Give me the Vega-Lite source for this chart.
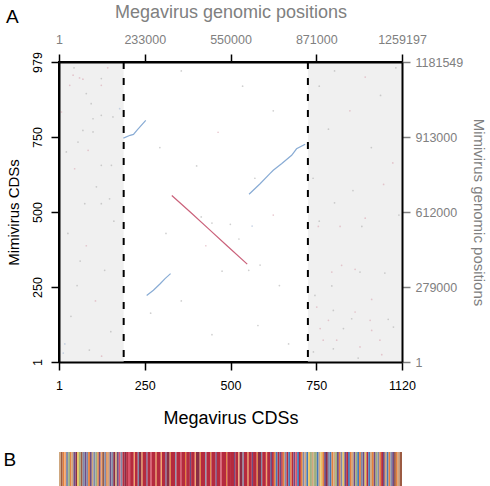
{
  "$schema": "https://vega.github.io/schema/vega-lite/v6.json",
  "padding": {"left": 3, "top": 2, "right": 4, "bottom": 0},
  "config": {
    "font": "Liberation Sans",
    "view": {"stroke": null},
    "axis": {"grid": false, "titleFontWeight": "normal", "zindex": 1},
    "title": {"font": "Liberation Sans", "fontWeight": "normal"}
  },
  "datasets": {
    "shade": [{"a": 1, "b": 212}, {"a": 813, "b": 1120}],
    "cut": [{"x": 212}, {"x": 813}],
    "redline": [
      {"x": 369, "y": 544}, {"x": 430, "y": 489}, {"x": 490, "y": 434}, {"x": 550, "y": 379}, {"x": 615, "y": 320}
    ],
    "bluelines": [
      {"s": "b1", "x": 211, "y": 731}, {"s": "b1", "x": 233, "y": 740}, {"s": "b1", "x": 244, "y": 743},
      {"s": "b1", "x": 255, "y": 756}, {"s": "b1", "x": 284, "y": 789},
      {"s": "b2", "x": 287, "y": 218}, {"s": "b2", "x": 309, "y": 235}, {"s": "b2", "x": 331, "y": 256},
      {"s": "b2", "x": 347, "y": 273}, {"s": "b2", "x": 365, "y": 289},
      {"s": "b3", "x": 621, "y": 548}, {"s": "b3", "x": 657, "y": 582}, {"s": "b3", "x": 689, "y": 615},
      {"s": "b3", "x": 700, "y": 626}, {"s": "b3", "x": 728, "y": 648}, {"s": "b3", "x": 760, "y": 675},
      {"s": "b3", "x": 776, "y": 696}, {"s": "b3", "x": 804, "y": 711}
    ],
    "dots": [
      {"x": 47, "y": 936, "t": "p"}, {"x": 68, "y": 927, "t": "p"}, {"x": 79, "y": 923, "t": "p"}, {"x": 36, "y": 903, "t": "p"},
      {"x": 139, "y": 925, "t": "g"}, {"x": 139, "y": 903, "t": "p"}, {"x": 90, "y": 876, "t": "g"}, {"x": 106, "y": 843, "t": "g"},
      {"x": 199, "y": 827, "t": "b"}, {"x": 177, "y": 800, "t": "g"}, {"x": 139, "y": 805, "t": "g"}, {"x": 9, "y": 816, "t": "p"},
      {"x": 112, "y": 794, "t": "g"}, {"x": 79, "y": 756, "t": "g"}, {"x": 112, "y": 751, "t": "g"}, {"x": 63, "y": 718, "t": "g"},
      {"x": 25, "y": 686, "t": "g"}, {"x": 96, "y": 691, "t": "p"}, {"x": 139, "y": 642, "t": "g"}, {"x": 172, "y": 642, "t": "g"},
      {"x": 52, "y": 631, "t": "p"}, {"x": 123, "y": 572, "t": "g"}, {"x": 166, "y": 533, "t": "g"}, {"x": 139, "y": 517, "t": "g"},
      {"x": 85, "y": 517, "t": "g"}, {"x": 30, "y": 420, "t": "g"}, {"x": 90, "y": 380, "t": "p"}, {"x": 150, "y": 300, "t": "g"},
      {"x": 60, "y": 250, "t": "g"}, {"x": 120, "y": 200, "t": "p"}, {"x": 40, "y": 150, "t": "g"}, {"x": 170, "y": 100, "t": "g"},
      {"x": 20, "y": 60, "t": "b"}, {"x": 100, "y": 40, "t": "g"}, {"x": 140, "y": 20, "t": "p"}, {"x": 70, "y": 330, "t": "g"},
      {"x": 180, "y": 460, "t": "g"}, {"x": 15, "y": 30, "t": "b"}, {"x": 160, "y": 960, "t": "p"}, {"x": 50, "y": 960, "t": "g"},
      {"x": 847, "y": 443, "t": "p"}, {"x": 918, "y": 443, "t": "p"}, {"x": 989, "y": 443, "t": "g"}, {"x": 923, "y": 316, "t": "p"},
      {"x": 891, "y": 294, "t": "p"}, {"x": 967, "y": 303, "t": "p"}, {"x": 983, "y": 294, "t": "g"}, {"x": 1064, "y": 291, "t": "g"},
      {"x": 891, "y": 249, "t": "g"}, {"x": 836, "y": 218, "t": "g"}, {"x": 1021, "y": 205, "t": "p"}, {"x": 842, "y": 180, "t": "p"},
      {"x": 896, "y": 169, "t": "g"}, {"x": 967, "y": 164, "t": "p"}, {"x": 880, "y": 137, "t": "p"}, {"x": 956, "y": 142, "t": "g"},
      {"x": 1016, "y": 137, "t": "p"}, {"x": 1075, "y": 140, "t": "g"}, {"x": 853, "y": 110, "t": "p"}, {"x": 929, "y": 110, "t": "g"},
      {"x": 1021, "y": 104, "t": "p"}, {"x": 1092, "y": 115, "t": "g"}, {"x": 863, "y": 72, "t": "p"}, {"x": 907, "y": 72, "t": "p"},
      {"x": 1048, "y": 72, "t": "p"}, {"x": 896, "y": 44, "t": "g"}, {"x": 983, "y": 50, "t": "p"}, {"x": 1054, "y": 25, "t": "p"},
      {"x": 831, "y": 34, "t": "g"}, {"x": 977, "y": 14, "t": "g"}, {"x": 850, "y": 900, "t": "g"}, {"x": 900, "y": 950, "t": "g"},
      {"x": 1000, "y": 930, "t": "p"}, {"x": 1050, "y": 870, "t": "g"}, {"x": 1100, "y": 960, "t": "g"}, {"x": 950, "y": 820, "t": "p"},
      {"x": 880, "y": 760, "t": "g"}, {"x": 1020, "y": 700, "t": "g"}, {"x": 1090, "y": 650, "t": "p"}, {"x": 830, "y": 600, "t": "g"},
      {"x": 960, "y": 560, "t": "g"}, {"x": 1060, "y": 580, "t": "p"}, {"x": 900, "y": 520, "t": "g"}, {"x": 1110, "y": 480, "t": "g"},
      {"x": 1000, "y": 470, "t": "p"}, {"x": 850, "y": 460, "t": "g"},
      {"x": 400, "y": 950, "t": "g"}, {"x": 600, "y": 900, "t": "g"}, {"x": 700, "y": 820, "t": "g"}, {"x": 330, "y": 700, "t": "g"},
      {"x": 520, "y": 750, "t": "p"}, {"x": 450, "y": 640, "t": "g"}, {"x": 640, "y": 600, "t": "g"}, {"x": 700, "y": 480, "t": "p"},
      {"x": 560, "y": 450, "t": "g"}, {"x": 350, "y": 420, "t": "g"}, {"x": 480, "y": 380, "t": "p"}, {"x": 620, "y": 300, "t": "g"},
      {"x": 720, "y": 250, "t": "g"}, {"x": 400, "y": 200, "t": "g"}, {"x": 300, "y": 160, "t": "g"}, {"x": 650, "y": 120, "t": "g"},
      {"x": 500, "y": 90, "t": "g"}, {"x": 750, "y": 60, "t": "g"}, {"x": 465, "y": 474, "t": "g"}, {"x": 500, "y": 454, "t": "g"},
      {"x": 631, "y": 444, "t": "b"}, {"x": 588, "y": 402, "t": "g"}, {"x": 657, "y": 317, "t": "g"}, {"x": 533, "y": 297, "t": "g"}
    ],
    "strip": [
      {"a": 1, "b": 7, "c": "T"}, {"a": 7, "b": 13, "c": "N"}, {"a": 13, "b": 19, "c": "O"}, {"a": 19, "b": 24, "c": "P"},
      {"a": 24, "b": 31, "c": "S"}, {"a": 31, "b": 37, "c": "G"}, {"a": 37, "b": 42, "c": "O"}, {"a": 42, "b": 48, "c": "T"},
      {"a": 48, "b": 55, "c": "U"}, {"a": 55, "b": 60, "c": "M"}, {"a": 60, "b": 66, "c": "Y"}, {"a": 66, "b": 72, "c": "G"},
      {"a": 72, "b": 78, "c": "N"}, {"a": 78, "b": 85, "c": "S"}, {"a": 85, "b": 91, "c": "U"}, {"a": 91, "b": 96, "c": "S"},
      {"a": 96, "b": 102, "c": "O"}, {"a": 102, "b": 108, "c": "U"}, {"a": 108, "b": 113, "c": "T"}, {"a": 113, "b": 120, "c": "S"},
      {"a": 120, "b": 126, "c": "G"}, {"a": 126, "b": 131, "c": "O"}, {"a": 131, "b": 137, "c": "U"}, {"a": 137, "b": 142, "c": "P"},
      {"a": 142, "b": 149, "c": "N"}, {"a": 149, "b": 155, "c": "S"}, {"a": 155, "b": 160, "c": "O"}, {"a": 160, "b": 166, "c": "T"},
      {"a": 166, "b": 172, "c": "U"}, {"a": 172, "b": 178, "c": "S"}, {"a": 178, "b": 184, "c": "M"}, {"a": 184, "b": 190, "c": "T"},
      {"a": 190, "b": 196, "c": "U"}, {"a": 196, "b": 202, "c": "K"}, {"a": 202, "b": 208, "c": "S"}, {"a": 208, "b": 214, "c": "R"},
      {"a": 214, "b": 220, "c": "M"}, {"a": 220, "b": 226, "c": "R"}, {"a": 226, "b": 233, "c": "K"},
      {"a": 233, "b": 245, "c": "R"}, {"a": 245, "b": 249, "c": "P"}, {"a": 249, "b": 258, "c": "R"}, {"a": 258, "b": 262, "c": "S"},
      {"a": 262, "b": 270, "c": "M"}, {"a": 270, "b": 274, "c": "O"}, {"a": 274, "b": 286, "c": "R"}, {"a": 286, "b": 290, "c": "U"},
      {"a": 290, "b": 300, "c": "R"}, {"a": 300, "b": 304, "c": "K"}, {"a": 304, "b": 316, "c": "R"}, {"a": 316, "b": 320, "c": "O"},
      {"a": 320, "b": 333, "c": "R"}, {"a": 333, "b": 337, "c": "P"}, {"a": 337, "b": 348, "c": "R"}, {"a": 348, "b": 352, "c": "U"},
      {"a": 352, "b": 362, "c": "M"}, {"a": 362, "b": 366, "c": "O"}, {"a": 366, "b": 380, "c": "R"}, {"a": 380, "b": 384, "c": "S"},
      {"a": 384, "b": 396, "c": "R"}, {"a": 396, "b": 400, "c": "K"}, {"a": 400, "b": 412, "c": "R"}, {"a": 412, "b": 416, "c": "O"},
      {"a": 416, "b": 428, "c": "R"}, {"a": 428, "b": 432, "c": "U"}, {"a": 432, "b": 444, "c": "R"}, {"a": 444, "b": 448, "c": "P"},
      {"a": 448, "b": 460, "c": "M"}, {"a": 460, "b": 464, "c": "O"}, {"a": 464, "b": 478, "c": "R"}, {"a": 478, "b": 482, "c": "S"},
      {"a": 482, "b": 494, "c": "R"}, {"a": 494, "b": 498, "c": "O"}, {"a": 498, "b": 512, "c": "R"}, {"a": 512, "b": 516, "c": "U"},
      {"a": 516, "b": 528, "c": "R"}, {"a": 528, "b": 532, "c": "K"}, {"a": 532, "b": 546, "c": "R"}, {"a": 546, "b": 550, "c": "O"},
      {"a": 550, "b": 559, "c": "R"},
      {"a": 559, "b": 572, "c": "R"}, {"a": 572, "b": 576, "c": "U"}, {"a": 576, "b": 586, "c": "R"}, {"a": 586, "b": 590, "c": "P"},
      {"a": 590, "b": 600, "c": "M"}, {"a": 600, "b": 604, "c": "S"}, {"a": 604, "b": 616, "c": "R"}, {"a": 616, "b": 620, "c": "O"},
      {"a": 620, "b": 630, "c": "R"}, {"a": 630, "b": 634, "c": "U"}, {"a": 634, "b": 646, "c": "R"}, {"a": 646, "b": 650, "c": "O"},
      {"a": 650, "b": 660, "c": "M"}, {"a": 660, "b": 664, "c": "S"}, {"a": 664, "b": 676, "c": "R"}, {"a": 676, "b": 680, "c": "P"},
      {"a": 680, "b": 690, "c": "R"},
      {"a": 690, "b": 696, "c": "U"}, {"a": 696, "b": 702, "c": "R"}, {"a": 702, "b": 708, "c": "O"}, {"a": 708, "b": 714, "c": "B"},
      {"a": 714, "b": 720, "c": "R"}, {"a": 720, "b": 726, "c": "U"}, {"a": 726, "b": 731, "c": "R"}, {"a": 731, "b": 737, "c": "O"},
      {"a": 737, "b": 743, "c": "S"}, {"a": 743, "b": 749, "c": "R"}, {"a": 749, "b": 755, "c": "B"}, {"a": 755, "b": 760, "c": "O"},
      {"a": 760, "b": 766, "c": "R"}, {"a": 766, "b": 772, "c": "U"}, {"a": 772, "b": 778, "c": "K"}, {"a": 778, "b": 784, "c": "B"},
      {"a": 784, "b": 790, "c": "R"}, {"a": 790, "b": 796, "c": "O"}, {"a": 796, "b": 802, "c": "S"}, {"a": 802, "b": 808, "c": "T"},
      {"a": 808, "b": 814, "c": "B"}, {"a": 814, "b": 820, "c": "Y"}, {"a": 820, "b": 826, "c": "G"}, {"a": 826, "b": 832, "c": "T"},
      {"a": 832, "b": 836, "c": "G"},
      {"a": 836, "b": 842, "c": "G"}, {"a": 842, "b": 848, "c": "B"}, {"a": 848, "b": 854, "c": "T"}, {"a": 854, "b": 860, "c": "Y"},
      {"a": 860, "b": 866, "c": "O"}, {"a": 866, "b": 872, "c": "U"}, {"a": 872, "b": 878, "c": "M"}, {"a": 878, "b": 884, "c": "S"},
      {"a": 884, "b": 890, "c": "B"}, {"a": 890, "b": 896, "c": "O"}, {"a": 896, "b": 902, "c": "T"}, {"a": 902, "b": 908, "c": "G"},
      {"a": 908, "b": 914, "c": "U"}, {"a": 914, "b": 920, "c": "O"}, {"a": 920, "b": 926, "c": "S"}, {"a": 926, "b": 932, "c": "Y"},
      {"a": 932, "b": 938, "c": "U"}, {"a": 938, "b": 944, "c": "R"}, {"a": 944, "b": 950, "c": "B"}, {"a": 950, "b": 956, "c": "O"},
      {"a": 956, "b": 962, "c": "T"}, {"a": 962, "b": 968, "c": "U"}, {"a": 968, "b": 974, "c": "G"}, {"a": 974, "b": 980, "c": "B"},
      {"a": 980, "b": 986, "c": "O"}, {"a": 986, "b": 992, "c": "S"}, {"a": 992, "b": 998, "c": "U"}, {"a": 998, "b": 1004, "c": "Y"},
      {"a": 1004, "b": 1010, "c": "R"}, {"a": 1010, "b": 1016, "c": "B"}, {"a": 1016, "b": 1022, "c": "T"}, {"a": 1022, "b": 1028, "c": "O"},
      {"a": 1028, "b": 1034, "c": "U"}, {"a": 1034, "b": 1040, "c": "G"}, {"a": 1040, "b": 1046, "c": "S"}, {"a": 1046, "b": 1052, "c": "O"},
      {"a": 1052, "b": 1058, "c": "R"}, {"a": 1058, "b": 1064, "c": "U"}, {"a": 1064, "b": 1070, "c": "T"}, {"a": 1070, "b": 1076, "c": "B"},
      {"a": 1076, "b": 1082, "c": "O"}, {"a": 1082, "b": 1088, "c": "S"}, {"a": 1088, "b": 1094, "c": "U"}, {"a": 1094, "b": 1100, "c": "N"},
      {"a": 1100, "b": 1106, "c": "O"}, {"a": 1106, "b": 1112, "c": "T"}, {"a": 1112, "b": 1120, "c": "N"}
    ]
  },
  "spacing": 21,
  "resolve": {"scale": {"color": "independent"}},
  "vconcat": [
    {
      "width": 343,
      "height": 300,
      "view": {"stroke": "black", "strokeWidth": 2},
      "title": {"text": "A", "anchor": "start", "frame": "bounds", "fontSize": 19, "color": "black", "offset": -24},
      "resolve": {"axis": {"x": "independent", "y": "independent"}, "scale": {"color": "independent"}},
      "layer": [
        {
          "data": {"name": "shade"},
          "mark": {"type": "rect", "color": "#f0f0f0"},
          "encoding": {
            "x": {"field": "a", "type": "quantitative", "scale": {"domain": [1, 1120], "nice": false, "zero": false}, "axis": null},
            "x2": {"field": "b"},
            "y": {"datum": 1, "type": "quantitative", "scale": {"domain": [1, 979], "nice": false, "zero": false}, "axis": null},
            "y2": {"datum": 979}
          }
        },
        {
          "data": {"name": "dots"},
          "mark": {"type": "circle", "size": 3, "opacity": 0.55},
          "encoding": {
            "x": {"field": "x", "type": "quantitative", "scale": {"domain": [1, 1120], "nice": false, "zero": false},
              "axis": {"orient": "bottom", "values": [1, 280.75, 560.5, 840.25, 1120], "zindex": 2,
                "labelExpr": "datum.value < 100 ? '1' : datum.value < 400 ? '250' : datum.value < 700 ? '500' : datum.value < 1000 ? '750' : '1120'",
                "labelFlush": false, "labelOverlap": false, "tickSize": 8, "tickColor": "black", "tickWidth": 1.5,
                "labelPadding": 9.5, "labelFontSize": 12.5, "labelColor": "black", "domainColor": "black", "domainWidth": 2,
                "title": "Megavirus CDSs", "titleFontSize": 18, "titlePadding": 17.5, "titleColor": "black"}},
            "y": {"field": "y", "type": "quantitative", "scale": {"domain": [1, 979], "nice": false, "zero": false},
              "axis": {"orient": "left", "values": [1, 245.5, 490, 734.5, 979], "zindex": 2,
                "labelExpr": "datum.value < 100 ? '1' : datum.value < 300 ? '250' : datum.value < 600 ? '500' : datum.value < 900 ? '750' : '979'",
                "labelAngle": -90, "labelOverlap": false, "tickSize": 8, "tickColor": "black", "tickWidth": 1.5,
                "labelPadding": 7, "labelFontSize": 12.5, "labelColor": "black", "domainColor": "black", "domainWidth": 2,
                "title": "Mimivirus CDSs", "titleFontSize": 15, "titlePadding": 10, "titleColor": "black"}},
            "color": {"field": "t", "type": "nominal", "scale": {"domain": ["g", "p", "b"], "range": ["#aaaaaa", "#d8a0ad", "#9fb5d3"]}, "legend": null}
          }
        },
        {
          "data": {"name": "cut"},
          "mark": {"type": "rule", "color": "black", "strokeWidth": 2, "strokeDash": [7, 9]},
          "encoding": {
            "x": {"field": "x", "type": "quantitative", "scale": {"domain": [1, 1120], "nice": false, "zero": false}, "axis": null}
          }
        },
        {
          "data": {"name": "redline"},
          "mark": {"type": "line", "strokeWidth": 1.2, "color": "#c4506c", "opacity": 0.9},
          "encoding": {
            "x": {"field": "x", "type": "quantitative", "scale": {"domain": [1, 1120], "nice": false, "zero": false}, "axis": null},
            "y": {"field": "y", "type": "quantitative", "scale": {"domain": [1, 979], "nice": false, "zero": false}, "axis": null}
          }
        },
        {
          "data": {"name": "bluelines"},
          "mark": {"type": "line", "strokeWidth": 1.2, "color": "#7ba2cf", "opacity": 0.9},
          "encoding": {
            "x": {"field": "x", "type": "quantitative", "scale": {"domain": [1, 1120], "nice": false, "zero": false},
              "axis": {"orient": "top", "values": [1, 280.75, 560.5, 840.25, 1120], "zindex": 2,
                "labelExpr": "datum.value < 100 ? '1' : datum.value < 400 ? '233000' : datum.value < 700 ? '550000' : datum.value < 1000 ? '871000' : '1259197'",
                "labelFlush": false, "labelOverlap": false, "tickSize": 8, "tickColor": "black", "tickWidth": 1.5,
                "labelPadding": 8, "labelFontSize": 12.5, "labelColor": "#808080", "domainColor": "black", "domainWidth": 2,
                "title": "Megavirus genomic positions", "titleFontSize": 18, "titlePadding": 12, "titleColor": "#808080"}},
            "y": {"field": "y", "type": "quantitative", "scale": {"domain": [1, 979], "nice": false, "zero": false},
              "axis": {"orient": "right", "values": [1, 245.5, 490, 734.5, 979], "zindex": 2,
                "labelExpr": "datum.value < 100 ? '1' : datum.value < 300 ? '279000' : datum.value < 600 ? '612000' : datum.value < 900 ? '913000' : '1181549'",
                "labelOverlap": false, "tickSize": 8, "tickColor": "#808080", "tickWidth": 1.5,
                "labelPadding": 5, "labelFontSize": 12.5, "labelColor": "#808080", "domainColor": "black", "domainWidth": 2,
                "title": "Mimivirus genomic positions", "titleFontSize": 15, "titlePadding": 8, "titleColor": "#808080"}},
            "detail": {"field": "s"}
          }
        }
      ]
    },
    {
      "width": 343,
      "height": 37,
      "data": {"name": "strip"},
      "mark": {"type": "rect"},
      "encoding": {
        "x": {"field": "a", "type": "quantitative", "scale": {"domain": [1, 1120], "nice": false, "zero": false}, "axis": null},
        "x2": {"field": "b"},
        "y": {"datum": "B", "type": "nominal", "scale": {"paddingInner": 0, "paddingOuter": 0},
          "axis": {"title": null, "ticks": false, "domain": false, "labelFontSize": 19, "labelColor": "black",
            "labelAlign": "left", "labelPadding": 56, "labelBaseline": "middle", "labelOffset": -11}},
        "color": {"field": "c", "type": "nominal",
          "scale": {"domain": ["R", "M", "O", "P", "T", "U", "B", "S", "G", "N", "Y", "K"],
            "range": ["#b52a3e", "#8a2d45", "#e3803e", "#f3a56e", "#cfa77e", "#6f4c82", "#4677b5", "#8189a8", "#9fae7c", "#9c5b43", "#e8c462", "#d9546a"]},
          "legend": null}
      }
    }
  ]
}
